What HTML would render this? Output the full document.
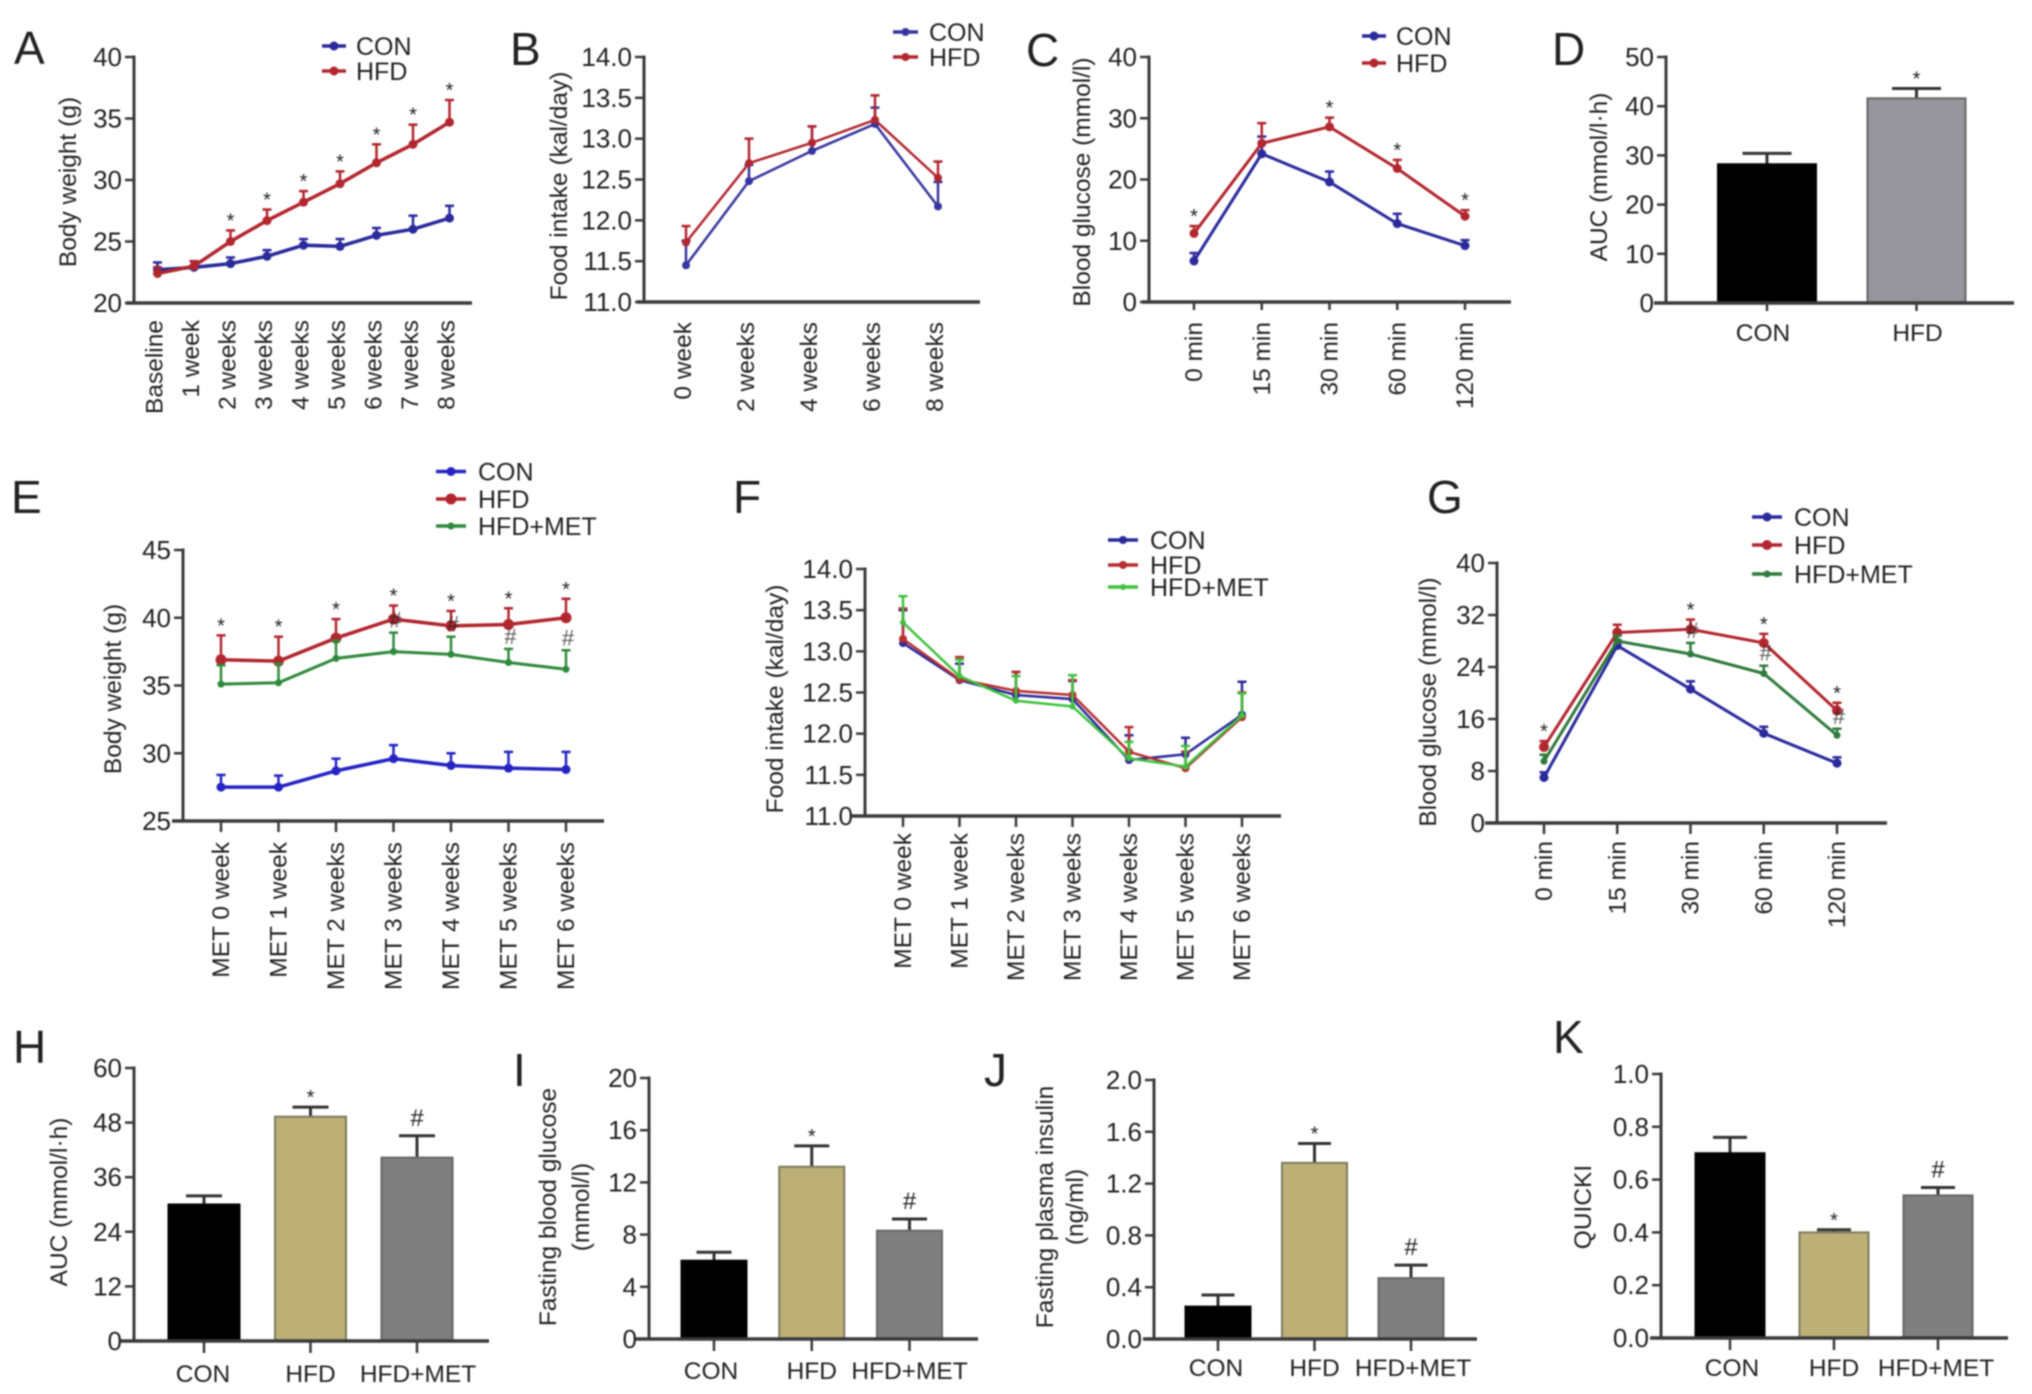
<!DOCTYPE html>
<html lang="en">
<head>
<meta charset="utf-8">
<title>Body weight, food intake and glucose panels</title>
<style>
html,body{margin:0;padding:0;background:#fff;width:2032px;height:1394px;overflow:hidden}
svg{display:block;filter:blur(0.8px)}
text{font-family:"Liberation Sans",Arial,sans-serif;fill:#222}
</style>
</head>
<body>
<svg id="figure" xmlns="http://www.w3.org/2000/svg" width="2032" height="1394" viewBox="0 0 2032 1394"></svg>
<script>
/* ---------- Panel A ---------- */
const panelACategories = ['Baseline','1 week','2 weeks','3 weeks','4 weeks','5 weeks','6 weeks','7 weeks','8 weeks'];
const panelATicks = ['20','25','30','35','40'];
const panelACon = [22.7,22.9,23.2,23.8,24.7,24.6,25.5,26.0,26.9];
const panelAConErr = [0.6,0.5,0.5,0.5,0.5,0.6,0.6,1.1,1.0];
const panelAHfd = [22.4,23.0,25.0,26.7,28.2,29.7,31.4,32.9,34.7];
const panelAHfdErr = [0.5,0.4,0.9,0.9,0.9,1.0,1.5,1.6,1.8];
const panelAStars = [0,0,1,1,1,1,1,1,1];
/* ---------- Panel B ---------- */
const panelBCategories = ['0 week','2 weeks','4 weeks','6 weeks','8 weeks'];
const panelBTicks = ['11.0','11.5','12.0','12.5','13.0','13.5','14.0'];
const panelBCon = [11.45,12.48,12.85,13.18,12.17];
const panelBConErr = [0.3,0.2,0.3,0.2,0.3];
const panelBHfd = [11.73,12.7,12.95,13.23,12.52];
const panelBHfdErr = [0.2,0.3,0.2,0.3,0.2];
/* ---------- Panel C ---------- */
const panelCCategories = ['0 min','15 min','30 min','60 min','120 min'];
const panelCTicks = ['0','10','20','30','40'];
const panelCCon = [6.7,24.2,19.6,12.8,9.2];
const panelCConErr = [1.3,2.8,1.7,1.6,0.9];
const panelCHfd = [11.2,25.9,28.6,21.8,14.0];
const panelCHfdErr = [1.2,3.3,1.5,1.4,1.0];
const panelCStars = [1,0,1,1,1];
/* ---------- Panel D ---------- */
const panelDCategories = ['CON','HFD'];
const panelDTicks = ['0','10','20','30','40','50'];
const panelDValues = [28.2,41.6];
const panelDErr = [2.2,2.0];
const panelDStars = [0,1];
const panelDHashes = [0,0];
/* ---------- Panel E ---------- */
const panelECategories = ['MET 0 week','MET 1 week','MET 2 weeks','MET 3 weeks','MET 4 weeks','MET 5 weeks','MET 6 weeks'];
const panelETicks = ['25','30','35','40','45'];
const panelECon = [27.5,27.5,28.7,29.6,29.1,28.9,28.8];
const panelEConErr = [0.9,0.85,0.9,1.0,0.9,1.2,1.3];
const panelEHfd = [36.9,36.8,38.5,39.9,39.4,39.5,40.0];
const panelEHfdErr = [1.8,1.8,1.4,1.0,1.1,1.2,1.4];
const panelEMet = [35.1,35.2,37.0,37.5,37.3,36.7,36.2];
const panelEMetErr = [1.4,1.4,1.3,1.4,1.3,1.0,1.4];
const panelEStars = [1,1,1,1,1,1,1];
const panelEHashes = [0,0,0,1,1,1,1];
/* ---------- Panel F ---------- */
const panelFCategories = ['MET 0 week','MET 1 week','MET 2 weeks','MET 3 weeks','MET 4 weeks','MET 5 weeks','MET 6 weeks'];
const panelFTicks = ['11.0','11.5','12.0','12.5','13.0','13.5','14.0'];
const panelFCon = [13.1,12.65,12.47,12.42,11.68,11.75,12.23];
const panelFConErr = [0.4,0.2,0.28,0.22,0.3,0.2,0.4];
const panelFHfd = [13.15,12.66,12.52,12.47,11.78,11.58,12.2];
const panelFHfdErr = [0.37,0.27,0.23,0.18,0.3,0.2,0.3];
const panelFMet = [13.35,12.7,12.4,12.33,11.7,11.6,12.22];
const panelFMetErr = [0.32,0.2,0.3,0.38,0.2,0.25,0.27];
/* ---------- Panel G ---------- */
const panelGCategories = ['0 min','15 min','30 min','60 min','120 min'];
const panelGTicks = ['0','8','16','24','32','40'];
const panelGCon = [7.0,27.3,20.6,13.8,9.2];
const panelGConErr = [0.8,0.8,1.2,1.0,0.9];
const panelGHfd = [11.7,29.3,29.8,27.7,17.3];
const panelGHfdErr = [0.9,1.2,1.5,1.4,1.2];
const panelGMet = [9.5,28.0,26.0,23.0,13.5];
const panelGMetErr = [1.0,0.8,1.7,1.2,1.0];
const panelGStars = [1,0,1,1,1];
const panelGHashes = [0,0,1,1,1];
/* ---------- Panel H ---------- */
const panelHCategories = ['CON','HFD','HFD+MET'];
const panelHTicks = ['0','12','24','36','48','60'];
const panelHValues = [30.0,49.3,40.3];
const panelHErr = [1.9,2.1,4.8];
const panelHStars = [0,1,0];
const panelHHashes = [0,0,1];
/* ---------- Panel I ---------- */
const panelICategories = ['CON','HFD','HFD+MET'];
const panelITicks = ['0','4','8','12','16','20'];
const panelIValues = [6.0,13.2,8.3];
const panelIErr = [0.65,1.6,0.9];
const panelIStars = [0,1,0];
const panelIHashes = [0,0,1];
/* ---------- Panel J ---------- */
const panelJCategories = ['CON','HFD','HFD+MET'];
const panelJTicks = ['0.0','0.4','0.8','1.2','1.6','2.0'];
const panelJValues = [0.25,1.36,0.47];
const panelJErr = [0.09,0.15,0.1];
const panelJStars = [0,1,0];
const panelJHashes = [0,0,1];
/* ---------- Panel K ---------- */
const panelKCategories = ['CON','HFD','HFD+MET'];
const panelKTicks = ['0.0','0.2','0.4','0.6','0.8','1.0'];
const panelKValues = [0.7,0.4,0.54];
const panelKErr = [0.06,0.01,0.03];
const panelKStars = [0,1,0];
const panelKHashes = [0,0,1];

const NS = 'http://www.w3.org/2000/svg';
const figure = document.getElementById('figure');
const BLUE = '#2a2a9c', RED = '#b2262e', GREEN = '#2f8a3c';

function make(parent, tag, attrs, content) {
  const node = document.createElementNS(NS, tag);
  for (const key in attrs) node.setAttribute(key, attrs[key]);
  if (content !== undefined) node.textContent = content;
  parent.appendChild(node);
  return node;
}

function linearY(ticks, yBottom, yTop) {
  const lo = Number(ticks[0]), hi = Number(ticks[ticks.length - 1]);
  return function (v) { return yBottom + (yTop - yBottom) * (v - lo) / (hi - lo); };
}

function drawPanelLetter(letter, x, y) {
  const el = make(figure, 'text', {x: x, y: y, 'font-size': 46, fill: '#111'}, letter);
  
  
}

function drawYAxis(g, p, yOf) {
  const axis = make(g, 'line', {x1: p.axisX, x2: p.axisX, y1: yOf(Number(p.ticks[p.ticks.length - 1])) - 1.5, y2: p.yBottom + 1.5, stroke: '#3a3a3a', 'stroke-width': 3});
  
  
  p.ticks.forEach(function (t) {
    const y = yOf(Number(t));
    const mark = make(g, 'line', {x1: p.axisX - 9, x2: p.axisX, y1: y, y2: y, stroke: '#3a3a3a', 'stroke-width': 2.5});
    
    
    const label = make(g, 'text', {x: p.axisX - 12, y: y + 9, 'font-size': 26, 'text-anchor': 'end'}, t);
    
    
  });
  p.title.forEach(function (line) {
    const title = make(g, 'text', {transform: 'translate(' + line.x + ',' + line.y + ') rotate(-90)', 'font-size': 24.5, 'text-anchor': 'middle', fill: '#333'}, line.text);
    
    
  });
}

function drawXAxisLine(g, p) {
  const axis = make(g, 'line', {x1: p.axisLeft, x2: p.axisRight, y1: p.yBottom, y2: p.yBottom, stroke: '#3a3a3a', 'stroke-width': 3.5});
  
  
}

function drawXTick(g, p, x) {
  if (!p.tickLen) return;
  const mark = make(g, 'line', {x1: x, x2: x, y1: p.yBottom, y2: p.yBottom + p.tickLen, stroke: '#3a3a3a', 'stroke-width': 2.5});
  
  
}

function drawLegend(g, p) {
  p.series.forEach(function (s, i) {
    const y = p.legend.ys[i];
    const line = make(g, 'line', {x1: p.legend.x1, x2: p.legend.x2, y1: y, y2: y, stroke: s.color, 'stroke-width': 3.5});
    
    
    const dot = make(g, 'circle', {cx: (p.legend.x1 + p.legend.x2) / 2, cy: y, r: s.r, fill: s.dot || s.color});
    
    
    const label = make(g, 'text', {x: p.legend.text, y: y + 9, 'font-size': 25}, s.label);
    
    
  });
}

function drawLinePanel(p) {
  const g = make(figure, 'g', {});
  
  
  const yOf = linearY(p.ticks, p.yBottom, p.yTop);
  const n = p.categories.length;
  const xOf = function (i) { return p.x0 + (p.x1 - p.x0) * i / (n - 1); };
  drawYAxis(g, p, yOf);
  drawXAxisLine(g, p);
  p.categories.forEach(function (c, i) {
    const x = xOf(i);
    drawXTick(g, p, x);
    const label = make(g, 'text', {transform: 'translate(' + (x + p.labelDx) + ',' + p.labelTop + ') rotate(-90)', 'font-size': 24.5, 'text-anchor': 'end', fill: '#333'}, c);
    
    
  });
  p.series.forEach(function (s) {
    const sg = make(g, 'g', {});
    
    
    s.values.forEach(function (v, i) {
      const x = xOf(i), top = yOf(v + s.errs[i]);
      const stem = make(sg, 'line', {x1: x, x2: x, y1: yOf(v), y2: top, stroke: s.color, 'stroke-width': 2.5});
      
      
      const cap = make(sg, 'line', {x1: x - 4.5, x2: x + 4.5, y1: top, y2: top, stroke: s.color, 'stroke-width': 2.5});
      
      
    });
    const points = s.values.map(function (v, i) { return xOf(i) + ',' + yOf(v); }).join(' ');
    const line = make(sg, 'polyline', {points: points, fill: 'none', stroke: s.color, 'stroke-width': s.width});
    
    
    s.values.forEach(function (v, i) {
      const dot = make(sg, 'circle', {cx: xOf(i), cy: yOf(v), r: s.r, fill: s.dot || s.color});
      
      
    });
  });
  if (p.stars) p.stars.forEach(function (flag, i) {
    if (!flag) return;
    const s = p.series[1];
    const star = make(g, 'text', {x: xOf(i), y: yOf(s.values[i] + s.errs[i]) - 3, 'font-size': 20, 'text-anchor': 'middle', fill: '#111'}, '*');
    
    
  });
  if (p.hashes) p.hashes.forEach(function (flag, i) {
    if (!flag) return;
    const s = p.series[2];
    const hash = make(g, 'text', {x: xOf(i) + 2, y: yOf(s.values[i] + s.errs[i]) - 5, 'font-size': 22, 'text-anchor': 'middle', fill: '#555', opacity: 0.75}, '#');
    
    
  });
  if (p.legend) drawLegend(g, p);
}

function drawBarPanel(p) {
  const g = make(figure, 'g', {});
  
  
  const yOf = linearY(p.ticks, p.yBottom, p.yTop);
  const xOf = function (i) { return p.x0 + p.step * i; };
  p.values.forEach(function (v, i) {
    const x = xOf(i), top = yOf(v), errTop = yOf(v + p.errs[i]);
    const stem = make(g, 'line', {x1: x, x2: x, y1: top, y2: errTop, stroke: '#333', 'stroke-width': 3});
    
    
    const cap = make(g, 'line', {x1: x - p.capW / 2, x2: x + p.capW / 2, y1: errTop, y2: errTop, stroke: '#333', 'stroke-width': 3});
    
    
    const bar = make(g, 'rect', {x: x - p.barW / 2, y: top, width: p.barW, height: p.yBottom - top, fill: p.fills[i], stroke: p.strokes[i], 'stroke-width': 2});
    
    
    if (p.stars[i]) {
      const star = make(g, 'text', {x: x, y: errTop - 3, 'font-size': 20, 'text-anchor': 'middle', fill: '#111'}, '*');
      
      
    }
    if (p.hashes[i]) {
      const hash = make(g, 'text', {x: x, y: errTop - 10, 'font-size': 24, 'text-anchor': 'middle', fill: '#222'}, '#');
      
      
    }
    drawXTick(g, p, x);
    const label = make(g, 'text', {x: x + p.labelOffsets[i], y: p.labelBase, 'font-size': 24.5, 'text-anchor': 'middle', fill: '#222'}, p.categories[i]);
    
    
  });
  drawYAxis(g, p, yOf);
  drawXAxisLine(g, p);
}

[['A',14,64],['B',510,65],['C',1026,66],['D',1552,65],['E',11,513],['F',733,513],['G',1427,513],['H',13,1063],['I',513,1086],['J',984,1086],['K',1553,1053]].forEach(function (l) {
  drawPanelLetter(l[0], l[1], l[2]);
});

drawLinePanel({
  name: 'panel-a-body-weight', categories: panelACategories, ticks: panelATicks,
  axisX: 134, axisLeft: 126, axisRight: 472, yBottom: 303, yTop: 57, x0: 157.5, x1: 449.5, tickLen: 0, labelDx: 5, labelTop: 320,
  title: [{text: 'Body weight (g)', x: 76, y: 182}],
  stars: panelAStars,
  legend: {x1: 322, x2: 346, text: 356, ys: [46, 71]},
  series: [
    {name: 'con', label: 'CON', values: panelACon, errs: panelAConErr, color: BLUE, r: 4.5, width: 3.5},
    {name: 'hfd', label: 'HFD', values: panelAHfd, errs: panelAHfdErr, color: RED, r: 4.5, width: 3.5}
  ]
});
drawLinePanel({
  name: 'panel-b-food-intake', categories: panelBCategories, ticks: panelBTicks,
  axisX: 644, axisLeft: 637, axisRight: 980, yBottom: 302, yTop: 57, x0: 686, x1: 938, tickLen: 0, labelDx: 5, labelTop: 322,
  title: [{text: 'Food intake (kal/day)', x: 567, y: 186}],
  legend: {x1: 893, x2: 918, text: 929, ys: [32, 57]},
  series: [
    {name: 'con', label: 'CON', values: panelBCon, errs: panelBConErr, color: '#35359f', r: 4, width: 2.5},
    {name: 'hfd', label: 'HFD', values: panelBHfd, errs: panelBHfdErr, color: RED, r: 4, width: 2.5}
  ]
});
drawLinePanel({
  name: 'panel-c-blood-glucose', categories: panelCCategories, ticks: panelCTicks,
  axisX: 1149, axisLeft: 1142, axisRight: 1511, yBottom: 302, yTop: 57, x0: 1194, x1: 1465, tickLen: 8, labelDx: 8, labelTop: 322,
  title: [{text: 'Blood glucose (mmol/l)', x: 1090, y: 182}],
  stars: panelCStars,
  legend: {x1: 1362, x2: 1386, text: 1396, ys: [36, 63]},
  series: [
    {name: 'con', label: 'CON', values: panelCCon, errs: panelCConErr, color: BLUE, r: 4.5, width: 3},
    {name: 'hfd', label: 'HFD', values: panelCHfd, errs: panelCHfdErr, color: RED, r: 4.5, width: 3}
  ]
});
drawBarPanel({
  name: 'panel-d-auc', categories: panelDCategories, ticks: panelDTicks, values: panelDValues, errs: panelDErr, stars: panelDStars, hashes: panelDHashes,
  axisX: 1666, axisLeft: 1654, axisRight: 2014, yBottom: 303, yTop: 57, x0: 1767, step: 149.5, barW: 98, capW: 49, tickLen: 8, labelBase: 341, labelOffsets: [-4, 1],
  fills: ['#000', '#95959b'], strokes: ['#000', '#666'],
  title: [{text: 'AUC (mmol/l·h)', x: 1607, y: 177}]
});
drawLinePanel({
  name: 'panel-e-body-weight', categories: panelECategories, ticks: panelETicks,
  axisX: 183, axisLeft: 172, axisRight: 604, yBottom: 821, yTop: 550, x0: 221, x1: 566, tickLen: 11, labelDx: 8, labelTop: 842,
  title: [{text: 'Body weight (g)', x: 121, y: 689}],
  stars: panelEStars, hashes: panelEHashes,
  legend: {x1: 436, x2: 466, text: 478, ys: [471.5, 499, 526]},
  series: [
    {name: 'con', label: 'CON', values: panelECon, errs: panelEConErr, color: '#2424c4', r: 4.5, width: 3.5},
    {name: 'hfd', label: 'HFD', values: panelEHfd, errs: panelEHfdErr, color: RED, r: 5.5, width: 3.5},
    {name: 'met', label: 'HFD+MET', values: panelEMet, errs: panelEMetErr, color: GREEN, r: 3.5, width: 3}
  ]
});
drawLinePanel({
  name: 'panel-f-food-intake', categories: panelFCategories, ticks: panelFTicks,
  axisX: 865, axisLeft: 852, axisRight: 1281, yBottom: 816, yTop: 569, x0: 903, x1: 1242, tickLen: 11, labelDx: 8, labelTop: 833,
  title: [{text: 'Food intake (kal/day)', x: 783, y: 699}],
  legend: {x1: 1108, x2: 1138, text: 1150, ys: [540, 565, 587]},
  series: [
    {name: 'con', label: 'CON', values: panelFCon, errs: panelFConErr, color: '#2a2a9c', r: 4, width: 2.5},
    {name: 'hfd', label: 'HFD', values: panelFHfd, errs: panelFHfdErr, color: '#b83030', r: 4, width: 2.5},
    {name: 'met', label: 'HFD+MET', values: panelFMet, errs: panelFMetErr, color: '#3fc23f', r: 3, width: 2.5}
  ]
});
drawLinePanel({
  name: 'panel-g-blood-glucose', categories: panelGCategories, ticks: panelGTicks,
  axisX: 1497, axisLeft: 1485, axisRight: 1887, yBottom: 823, yTop: 563, x0: 1544, x1: 1837, tickLen: 11, labelDx: 8, labelTop: 841,
  title: [{text: 'Blood glucose (mmol/l)', x: 1436, y: 702}],
  stars: panelGStars, hashes: panelGHashes,
  legend: {x1: 1752, x2: 1782, text: 1794, ys: [517, 545, 574]},
  series: [
    {name: 'con', label: 'CON', values: panelGCon, errs: panelGConErr, color: BLUE, r: 4.5, width: 3},
    {name: 'hfd', label: 'HFD', values: panelGHfd, errs: panelGHfdErr, color: RED, r: 5, width: 3},
    {name: 'met', label: 'HFD+MET', values: panelGMet, errs: panelGMetErr, color: '#2f7a3c', r: 3.5, width: 3}
  ]
});
const threeFills = ['#000', '#bdb077', '#7f7f7f'];
const threeStrokes = ['#000', '#7c7a5e', '#666'];
drawBarPanel({
  name: 'panel-h-auc', categories: panelHCategories, ticks: panelHTicks, values: panelHValues, errs: panelHErr, stars: panelHStars, hashes: panelHHashes,
  axisX: 134, axisLeft: 121, axisRight: 489, yBottom: 1341, yTop: 1068, x0: 204, step: 106.5, barW: 71, capW: 36, tickLen: 12, labelBase: 1382, labelOffsets: [-1, 0, 1],
  fills: threeFills, strokes: threeStrokes,
  title: [{text: 'AUC (mmol/l·h)', x: 67, y: 1202}]
});
drawBarPanel({
  name: 'panel-i-fasting-glucose', categories: panelICategories, ticks: panelITicks, values: panelIValues, errs: panelIErr, stars: panelIStars, hashes: panelIHashes,
  axisX: 649, axisLeft: 636, axisRight: 978, yBottom: 1339, yTop: 1078, x0: 714, step: 97.75, barW: 65, capW: 35, tickLen: 12, labelBase: 1379, labelOffsets: [-3, 0, 0],
  fills: threeFills, strokes: threeStrokes,
  title: [{text: 'Fasting blood glucose', x: 556, y: 1207}, {text: '(mmol/l)', x: 589, y: 1207}]
});
drawBarPanel({
  name: 'panel-j-fasting-insulin', categories: panelJCategories, ticks: panelJTicks, values: panelJValues, errs: panelJErr, stars: panelJStars, hashes: panelJHashes,
  axisX: 1154, axisLeft: 1143, axisRight: 1477, yBottom: 1339, yTop: 1080, x0: 1218, step: 96.5, barW: 65, capW: 33, tickLen: 12, labelBase: 1376, labelOffsets: [-2, 0, 2],
  fills: threeFills, strokes: threeStrokes,
  title: [{text: 'Fasting plasma insulin', x: 1053, y: 1207}, {text: '(ng/ml)', x: 1083, y: 1207}]
});
drawBarPanel({
  name: 'panel-k-quicki', categories: panelKCategories, ticks: panelKTicks, values: panelKValues, errs: panelKErr, stars: panelKStars, hashes: panelKHashes,
  axisX: 1661, axisLeft: 1650, axisRight: 2008, yBottom: 1338, yTop: 1074, x0: 1730, step: 104, barW: 69, capW: 34, tickLen: 12, labelBase: 1376, labelOffsets: [2, 0, -2],
  fills: threeFills, strokes: threeStrokes,
  title: [{text: 'QUICKI', x: 1591, y: 1207}]
});
</script>
</body>
</html>
